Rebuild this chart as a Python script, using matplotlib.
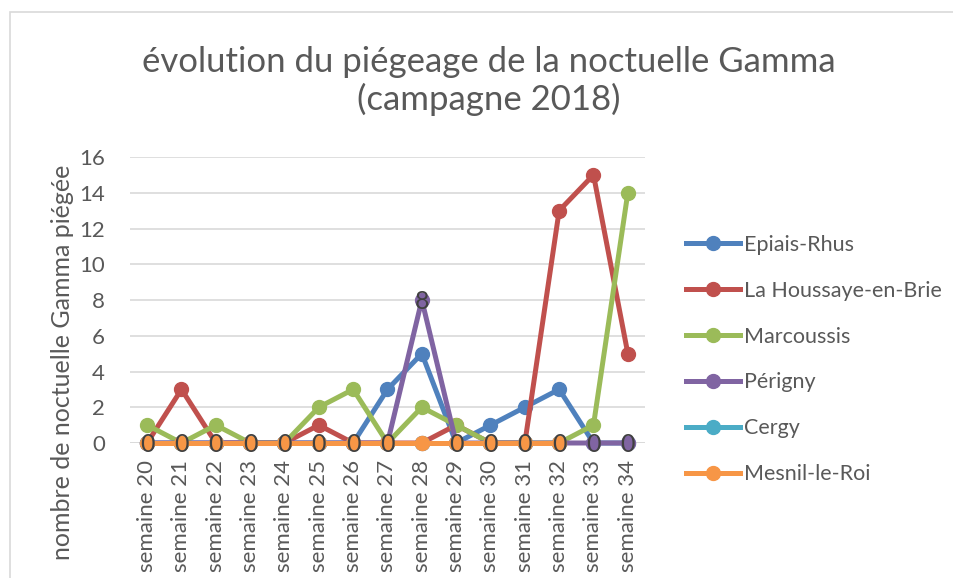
import matplotlib
matplotlib.use("Agg")
import matplotlib.pyplot as plt
from matplotlib.patches import Rectangle
import numpy as np

nan = np.nan

weeks = ["semaine %d" % w for w in range(20, 35)]

epiais_rhus = [0, 0, 0, 0, 0, 0, 0, 3, 5, 0, 1, 2, 3, 0, 0]
la_houssaye = [0, 3, 0, 0, 0, 1, 0, 0, 0, 1, 0, 0, 13, 15, 5]
marcoussis = [1, 0, 1, 0, 0, 2, 3, 0, 2, 1, 0, 0, 0, 1, 14]
perigny = [0, 0, 0, 0, 0, 0, 0, 0, 8, 0, 0, 0, 0, 0, 0]
cergy = [0, 0, 0, 0, 0, 0, 0, 0, 0, 0, 0, 0, 0, nan, nan]
mesnil = [0, 0, 0, 0, 0, 0, 0, 0, 0, 0, 0, 0, 0, nan, nan]

series = [
    ("Epiais-Rhus", epiais_rhus, "#4F81BD"),
    ("La Houssaye-en-Brie", la_houssaye, "#C0504D"),
    ("Marcoussis", marcoussis, "#9BBB59"),
    ("Périgny", perigny, "#8064A2"),
    ("Cergy", cergy, "#4BACC6"),
    ("Mesnil-le-Roi", mesnil, "#F79646"),
]

plt.rcParams['font.family'] = ['Lato', 'DejaVu Sans']
txt = '#595959'

fig = plt.figure(figsize=(9.54, 5.78), dpi=100)
fig.patch.set_facecolor('white')

# chart border (partly cropped in the original screenshot)
fig.patches.append(Rectangle((10 / 954, -0.2), 1.2, 1.2 - 12 / 578,
                             transform=fig.transFigure, fill=False,
                             edgecolor='#d9d9d9', linewidth=1.2))

ax = fig.add_axes([130 / 954, 1 - 443 / 578, 515 / 954, 286 / 578])
x = np.arange(len(weeks))

for i, (name, vals, col) in enumerate(series):
    ax.plot(x, vals, color=col, linewidth=3.6, marker='o', markersize=10,
            label=name, zorder=3 + i, clip_on=False)

# data labels on Périgny, digit centred on the marker
lab_size = 18
for xi, v in zip(x, perigny):
    ax.annotate("%d" % v, (xi, v), xytext=(0, -0.36 * lab_size),
                textcoords='offset points', ha='center', va='baseline',
                fontsize=lab_size, color='#404040', zorder=20,
                annotation_clip=False)

ax.set_xlim(-0.5, len(weeks) - 0.5)
ax.set_ylim(0, 16)
ax.set_yticks(range(0, 17, 2))
ax.set_xticks(x)
ax.set_xticklabels(weeks, rotation=90, fontsize=16, color=txt)
ax.tick_params(axis='y', labelsize=16, labelcolor=txt, length=0, pad=18)
ax.tick_params(axis='x', length=0, pad=12)
ax.grid(axis='y', color='#d9d9d9', linewidth=1.2, zorder=0)
ax.set_axisbelow(True)
for s in ax.spines.values():
    s.set_visible(False)
ax.axhline(0, color='#d9d9d9', linewidth=1.2, zorder=1)

fig.text(63 / 954, 1 - 362 / 578, "nombre de noctuelle Gamma piégée",
         rotation=90, ha='center', va='center', fontsize=18, color=txt)

fig.text(489 / 954, 1 - 81 / 578,
         "évolution du piégeage de la noctuelle Gamma\n(campagne 2018)",
         ha='center', va='center', fontsize=25, color=txt, linespacing=1.2)

leg = ax.legend(loc='upper left', bbox_to_anchor=(686 / 954, 1 - 235 / 578),
                bbox_transform=fig.transFigure, frameon=False, fontsize=15.5,
                handlelength=2.5, handletextpad=0.2, labelspacing=1.2,
                borderaxespad=0, borderpad=0)
for t in leg.get_texts():
    t.set_color(txt)

fig.savefig("out.png", dpi=100)
